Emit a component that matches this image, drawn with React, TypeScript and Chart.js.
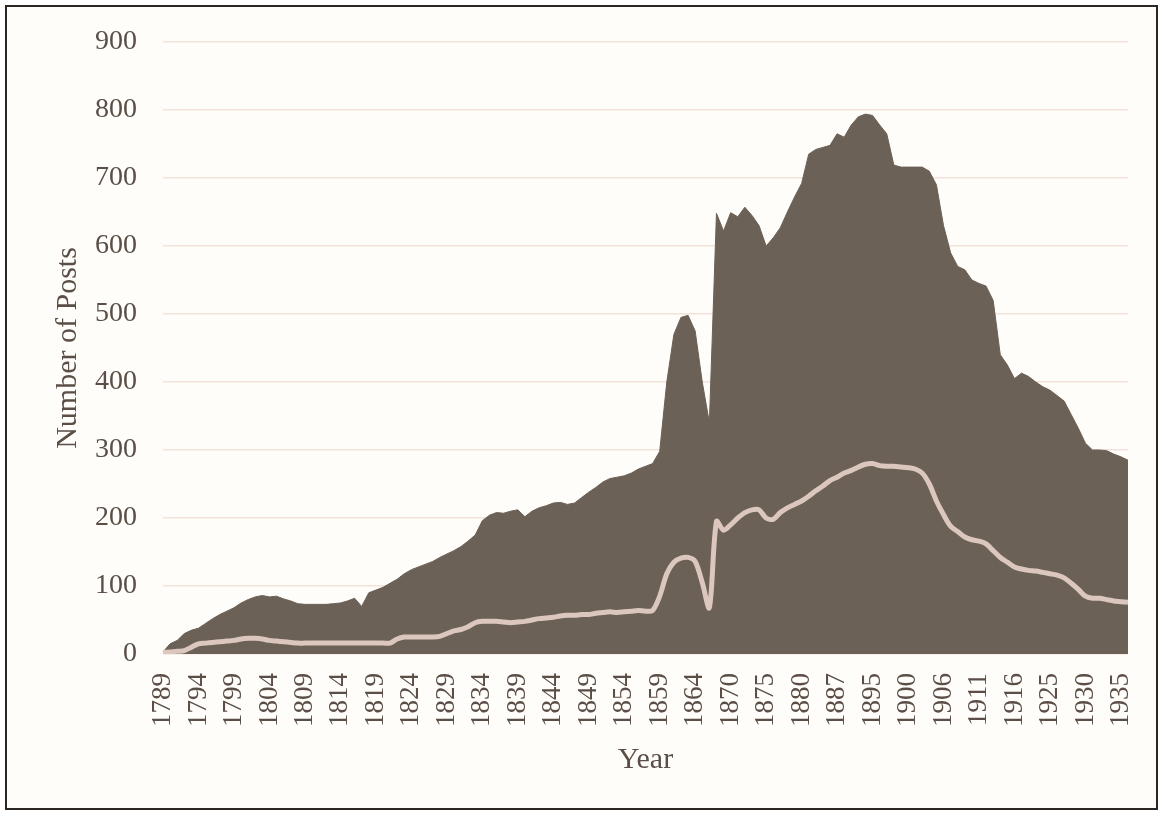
import { useEffect, useRef } from "react";
import { Chart, registerables } from "chart.js";

Chart.register(...registerables);

const years: number[] = [
  1789, 1790, 1791, 1792, 1793, 1794, 1795, 1796, 1797, 1798,
  1799, 1800, 1801, 1802, 1803, 1804, 1805, 1806, 1807, 1808,
  1809, 1810, 1811, 1812, 1813, 1814, 1815, 1816, 1817, 1818,
  1819, 1820, 1821, 1822, 1823, 1824, 1825, 1826, 1827, 1828,
  1829, 1830, 1831, 1832, 1833, 1834, 1835, 1836, 1837, 1838,
  1839, 1840, 1841, 1842, 1843, 1844, 1845, 1846, 1847, 1848,
  1849, 1850, 1851, 1852, 1853, 1854, 1855, 1856, 1857, 1858,
  1859, 1860, 1861, 1862, 1863, 1864, 1865, 1866, 1867, 1868,
  1870, 1871, 1872, 1873, 1874, 1875, 1876, 1877, 1878, 1879,
  1880, 1881, 1883, 1884, 1885, 1887, 1889, 1890, 1891, 1893,
  1895, 1896, 1897, 1898, 1899, 1900, 1901, 1902, 1903, 1905,
  1906, 1907, 1908, 1909, 1910, 1911, 1912, 1913, 1914, 1915,
  1916, 1917, 1919, 1921, 1923, 1925, 1926, 1927, 1928, 1929,
  1930, 1931, 1932, 1933, 1934, 1935, 1936,
];

const totalPosts: number[] = [
  3, 15, 20, 30, 35, 38, 45, 52, 58, 63,
  68, 75, 80, 84, 86, 84, 85, 81, 78, 74,
  73, 73, 73, 73, 74, 75, 78, 82, 70, 90,
  94, 98, 104, 110, 118, 124, 128, 132, 136, 142,
  147, 152, 158, 166, 175, 196, 204, 208, 207, 210,
  212, 202, 210, 215, 218, 222, 223, 220, 222, 230,
  238, 245, 253, 258, 260, 262, 266, 272, 276, 280,
  298, 400, 470, 495, 498, 475, 400, 340, 648, 622,
  649, 643, 657, 645, 630, 600, 612, 627, 650, 672,
  692, 735, 742, 745, 748, 765, 760, 778, 790, 794,
  792, 778, 765, 719, 716, 716, 716, 716, 710, 690,
  630, 590, 570, 565, 550, 545, 541, 520, 440, 425,
  405, 413, 408, 400, 393, 388, 380, 372, 352, 332,
  310, 300, 300, 299, 294, 290, 285,
];

const subsetPosts: number[] = [
  2, 3, 4, 5, 10, 15, 16, 17, 18, 19,
  20, 22, 23, 23, 22, 20, 19, 18, 17, 16,
  16, 16, 16, 16, 16, 16, 16, 16, 16, 16,
  16, 16, 16, 22, 25, 25, 25, 25, 25, 26,
  30, 34, 36, 40, 46, 48, 48, 48, 47, 46,
  47, 48, 50, 52, 53, 54, 56, 57, 57, 58,
  58, 60, 61, 62, 61, 62, 63, 64, 63, 64,
  85, 118, 135, 141, 142, 136, 105, 68, 195, 182,
  190, 200, 208, 212, 212, 200, 198, 208, 215, 220,
  225, 232, 240, 247, 255, 260, 266, 270, 275, 279,
  280, 277, 276, 276, 275, 274, 272, 266, 250, 225,
  205, 188, 180, 172, 168, 166, 162, 152, 142, 135,
  128, 125, 123, 122, 120, 118, 116, 112, 104, 95,
  85, 82, 82, 80, 78, 77, 76,
];

const yAxisMax = 900;
const yAxisStep = 100;
const xLabelEvery = 5;

const FONT = "'Liberation Serif', 'Times New Roman', serif";
const TEXT = "#5a4e46";

export default function App() {
  const ref = useRef<HTMLCanvasElement>(null);

  useEffect(() => {
    if (!ref.current) return;
    const chart = new Chart(ref.current, {
      type: "line",
      data: {
        labels: years.map(String),
        datasets: [
          {
            label: "Subset",
            data: subsetPosts,
            borderColor: "#dcc7be",
            borderWidth: 5,
            pointRadius: 0,
            fill: false,
            tension: 0.3,
            order: 0,
          },
          {
            label: "Total",
            data: totalPosts,
            borderColor: "#6c6157",
            backgroundColor: "#6c6157",
            borderWidth: 1,
            pointRadius: 0,
            fill: "origin",
            tension: 0,
            order: 1,
          },
        ],
      },
      options: {
        responsive: false,
        animation: false,
        events: [],
        layout: { padding: { top: 35, right: 28, bottom: 0, left: 0 } },
        plugins: {
          legend: { display: false },
          tooltip: { enabled: false },
        },
        scales: {
          x: {
            grid: { display: false, drawTicks: false },
            border: { display: false },
            ticks: {
              autoSkip: false,
              minRotation: 90,
              maxRotation: 90,
              padding: 19,
              color: TEXT,
              font: { family: FONT, size: 27 },
              callback: (_v: any, i: number) =>
                i % xLabelEvery === 0 ? String(years[i]) : "",
            },
            title: {
              display: true,
              text: "Year",
              color: TEXT,
              font: { family: FONT, size: 30 },
              padding: { top: 0, bottom: 30 },
            },
            afterFit: (s: any) => {
              s.height = 154;
              s.paddingLeft = 0;
              s.paddingRight = 0;
            },
          },
          y: {
            min: 0,
            max: yAxisMax,
            grid: { color: "#f2e2da", lineWidth: 1.5, drawTicks: false },
            border: { display: false },
            ticks: {
              stepSize: yAxisStep,
              padding: 26,
              color: TEXT,
              font: { family: FONT, size: 28 },
            },
            title: {
              display: true,
              text: "Number of Posts",
              color: TEXT,
              font: { family: FONT, size: 30 },
              padding: { top: 43, bottom: 0 },
            },
            afterFit: (s: any) => {
              s.width = 156;
              s.paddingTop = 0;
              s.paddingBottom = 0;
            },
          },
        },
      },
    } as any);
    return () => chart.destroy();
  }, []);

  return (
    <div
      style={{
        position: "absolute",
        left: 5,
        top: 5,
        width: 1149,
        height: 801,
        border: "2px solid #2b2622",
        background: "#fffdfa",
      }}
    >
      <canvas ref={ref} width={1149} height={801} style={{ display: "block" }} />
    </div>
  );
}
